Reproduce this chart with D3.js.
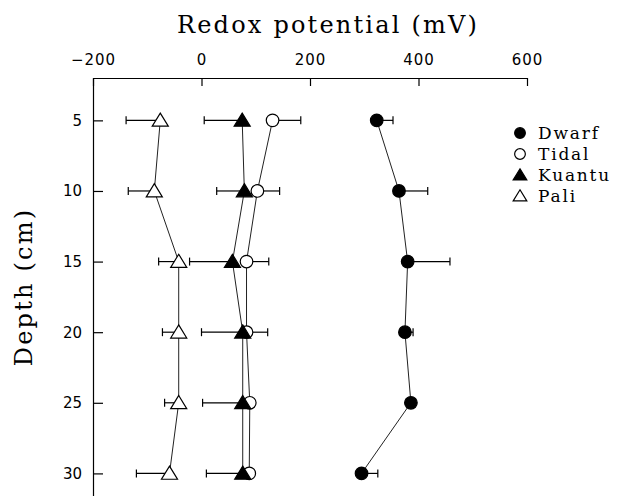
<!DOCTYPE html>
<html>
<head>
<meta charset="utf-8">
<script src="https://cdn.jsdelivr.net/npm/d3@7"></script>
<style>
  html, body { margin: 0; padding: 0; background: #fff; }
  svg { display: block; }
</style>
</head>
<body>
<script>
// ---- data ----
const depths = [5, 10, 15, 20, 25, 30];
const dwarf = [323, 364, 380, 375, 386, 295];
const dwarfErr = [30, 53, 78, 15, 6, 30];
const tidal = [131, 103, 83, 83, 89, 88];
const tidalErr = [52, 41, 41, 39, 6, 6];
const kuantu = [75, 79, 57, 76, 76, 76];
const kuantuErr = [70, 51, 79, 76, 74, 67];
const pali = [-76, -87, -42, -42, -42, -59];
const paliErr = [63, 48, 37, 30, 26, 61];
const xTicks = [-200, 0, 200, 400, 600];
const yTicks = [5, 10, 15, 20, 25, 30];
const seriesNames = ["Dwarf", "Tidal", "Kuantu", "Pali"];

const W = 621, H = 496;
const svg = d3.select("body").append("svg").attr("width", W).attr("height", H);

const x = d3.scaleLinear().domain([-200, 600]).range([93, 527]);
const y = d3.scaleLinear().domain([2, 31.6]).range([78, 496]);

const series = [
  { name: "Pali", vals: pali, err: paliErr, dir: -1, shape: "tri", fill: "#fff" },
  { name: "Tidal", vals: tidal, err: tidalErr, dir: 1, shape: "circle", fill: "#fff" },
  { name: "Kuantu", vals: kuantu, err: kuantuErr, dir: -1, shape: "tri", fill: "#000" },
  { name: "Dwarf", vals: dwarf, err: dwarfErr, dir: 1, shape: "circle", fill: "#000" }
];

const tickFont = "DejaVu Sans, Verdana, sans-serif";
const serifFont = "DejaVu Serif, serif";

// axes
const topAxis = d3.axisTop(x).tickValues(xTicks).tickSizeInner(-8).tickSizeOuter(0).tickPadding(13)
  .tickFormat(d => d < 0 ? "\u2212" + Math.abs(d) : d);
const gx = svg.append("g").attr("transform", `translate(0,${y(2)})`).call(topAxis);
gx.select(".domain").attr("stroke", "#000").attr("stroke-width", 1.2);
gx.selectAll(".tick line").attr("stroke", "#000").attr("stroke-width", 1.2);
gx.selectAll(".tick text").attr("font-family", tickFont)
  .attr("font-size", 15).attr("letter-spacing", 1).attr("fill", "#000");

const leftAxis = d3.axisLeft(y).tickValues(yTicks).tickSizeInner(-10).tickSizeOuter(0).tickPadding(11);
const gy = svg.append("g").attr("transform", `translate(${x(-200)},0)`).call(leftAxis);
gy.select(".domain").attr("stroke", "#000").attr("stroke-width", 1.2);
gy.selectAll(".tick line").attr("stroke", "#000").attr("stroke-width", 1.2);
gy.selectAll(".tick text").attr("font-family", tickFont)
  .attr("font-size", 15).attr("fill", "#000");

// titles
svg.append("text").attr("x", 328).attr("y", 33).attr("text-anchor", "middle")
  .attr("font-family", serifFont).attr("font-size", 24).attr("letter-spacing", 2.2).attr("fill", "#000")
  .text("Redox potential (mV)");
svg.append("text").attr("transform", `translate(32,287) rotate(-90)`).attr("text-anchor", "middle")
  .attr("font-family", serifFont).attr("font-size", 24).attr("letter-spacing", 2.2).attr("fill", "#000")
  .text("Depth (cm)");

function symbol(g, shape, fill, cx, cy, s) {
  if (shape === "circle") {
    g.append("circle").attr("cx", cx).attr("cy", cy).attr("r", 6.3 * s)
      .attr("fill", fill).attr("stroke", "#000").attr("stroke-width", 1.2);
  } else {
    const h = 7.3 * s;
    g.append("path").attr("d", `M${cx},${cy - h}L${cx + h * 1.1},${cy + h * 0.8}L${cx - h * 1.1},${cy + h * 0.8}Z`)
      .attr("fill", fill).attr("stroke", "#000").attr("stroke-width", 1.2);
  }
}

// error bars and lines
const line = d3.line().x(d => x(d[0])).y(d => y(d[1]));
series.forEach(s => {
  const g = svg.append("g");
  depths.forEach((d, i) => {
    const x0 = x(s.vals[i]), x1 = x(s.vals[i] + s.dir * s.err[i]), yy = y(d);
    g.append("line").attr("x1", x0).attr("x2", x1).attr("y1", yy).attr("y2", yy)
      .attr("stroke", "#000").attr("stroke-width", 1.2);
    g.append("line").attr("x1", x1).attr("x2", x1).attr("y1", yy - 4).attr("y2", yy + 4)
      .attr("stroke", "#000").attr("stroke-width", 1.2);
  });
  g.append("path").datum(depths.map((d, i) => [s.vals[i], d])).attr("d", line)
    .attr("fill", "none").attr("stroke", "#222").attr("stroke-width", 1);
});
series.forEach(s => {
  const g = svg.append("g");
  depths.forEach((d, i) => symbol(g, s.shape, s.fill, x(s.vals[i]), y(d), 1));
});

// legend
const legendInfo = {
  Dwarf: ["circle", "#000"], Tidal: ["circle", "#fff"], Kuantu: ["tri", "#000"], Pali: ["tri", "#fff"]
};
seriesNames.forEach((n, i) => {
  const ly = 133 + i * 21;
  const g = svg.append("g");
  symbol(g, legendInfo[n][0], legendInfo[n][1], 520, ly, 0.85);
  g.append("text").attr("x", 538).attr("y", ly + 6)
    .attr("font-family", serifFont).attr("font-size", 17).attr("letter-spacing", 1.8).attr("fill", "#000")
    .text(n);
});
</script>
</body>
</html>
